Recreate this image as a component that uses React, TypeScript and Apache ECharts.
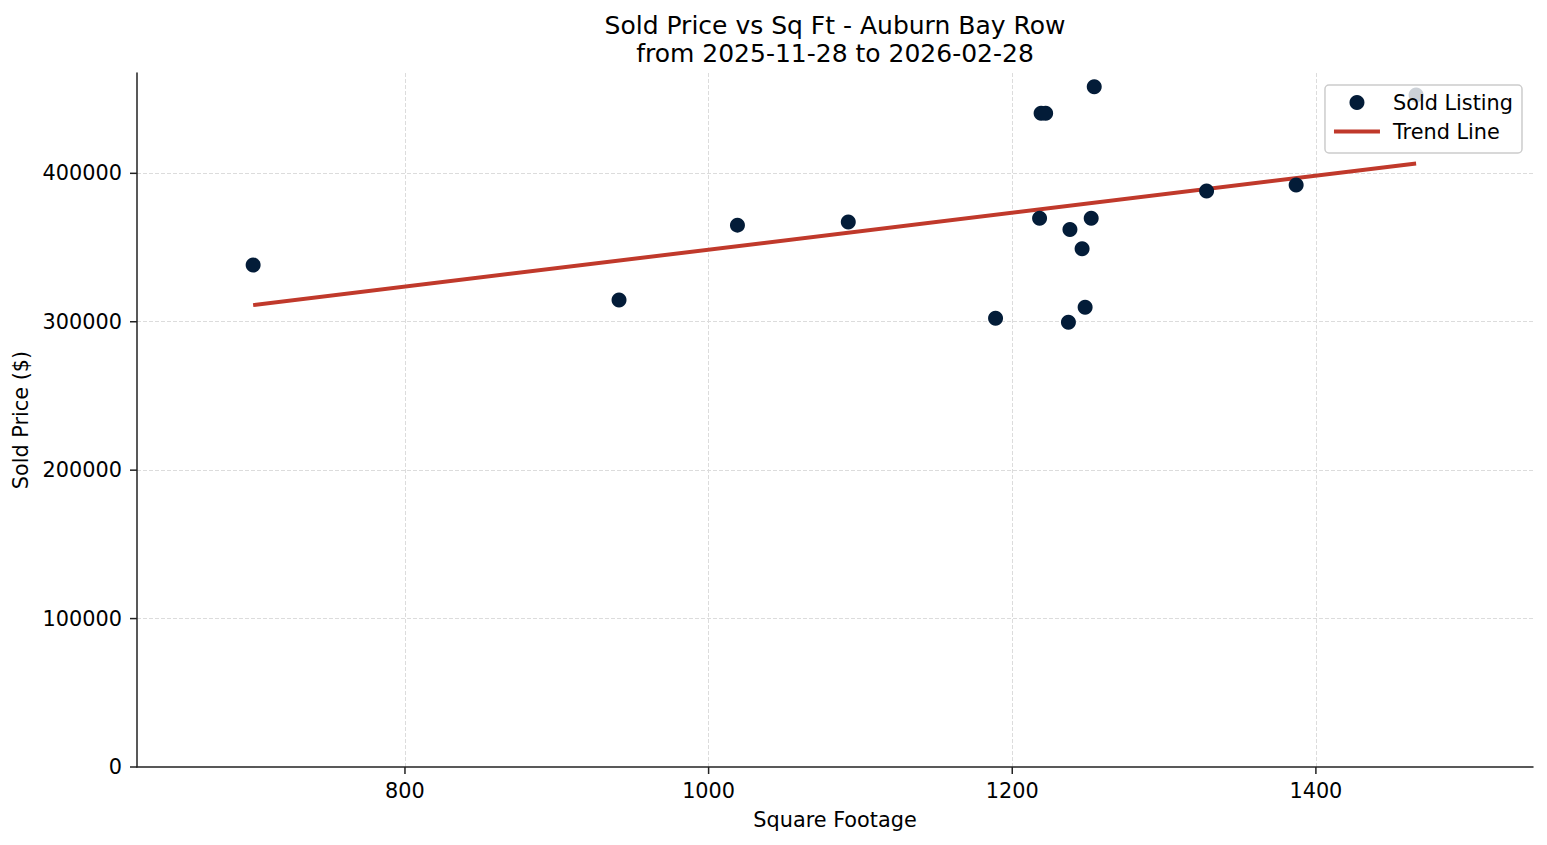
import React, { useEffect, useRef } from 'react';
import * as echarts from 'echarts';

// sold listings: square footage and sold price
const sqFt = [700, 941, 1019, 1092, 1189, 1218, 1219, 1222, 1254, 1238, 1237, 1246, 1248, 1252, 1328, 1387, 1466];
const soldPrice = [338200, 314600, 365100, 367200, 302300, 369700, 440400, 440400, 458400, 362200, 299600, 349200, 309700, 369700, 388100, 392100, 452800];

// trend line end points
const trendX = [700, 1466];
const trendY = [311200, 406600];

// tick values
const xTicks = [800, 1000, 1200, 1400];
const yTicks = [0, 100000, 200000, 300000, 400000];

const X_MIN = 623.5;
const X_MAX = 1543;
const Y_MAX = 467600;

const FONT = 'DejaVu Sans';
const AXIS_COLOR = '#222';

const App: React.FC = () => {
  const chartRef = useRef<HTMLDivElement>(null);

  useEffect(() => {
    document.body.style.margin = '0';
    if (!chartRef.current) return;

    const chart = echarts.init(chartRef.current, null, { renderer: 'svg' });

    const axisLine = { show: true, lineStyle: { color: AXIS_COLOR, width: 1.5 } };
    const splitLine = {
      show: true,
      showMinLine: false,
      showMaxLine: false,
      lineStyle: { color: '#dcdcdc', width: 1, type: [4, 2] }
    };
    const label = {
      fontFamily: FONT,
      fontSize: 20.8,
      color: '#000',
      showMinLabel: false,
      showMaxLabel: false,
      formatter: (v: number) => String(v)
    };

    // tick marks, drawn through the axis scales
    const tickSeries = (dim: 'x' | 'y', values: number[]) => ({
      type: 'custom',
      silent: true,
      clip: false,
      z: 5,
      data: values.map(v => (dim === 'x' ? [v, 0] : [X_MIN, v])),
      renderItem: (_params: any, api: any) => {
        const p = api.coord([api.value(0), api.value(1)]);
        const shape = dim === 'x'
          ? { x1: p[0], y1: p[1], x2: p[0], y2: p[1] + 7 }
          : { x1: p[0] - 7, y1: p[1], x2: p[0], y2: p[1] };
        return { type: 'line', shape, style: { stroke: AXIS_COLOR, lineWidth: 1.5 } };
      }
    });

    const option = {
      animation: false,
      backgroundColor: '#fff',
      textStyle: { fontFamily: FONT },
      title: {
        text: 'Sold Price vs Sq Ft - Auburn Bay Row\nfrom 2025-11-28 to 2026-02-28',
        left: 830,
        top: 6,
        textAlign: 'center',
        textStyle: { fontFamily: FONT, fontSize: 25, fontWeight: 'normal', color: '#000', lineHeight: 28 }
      },
      legend: {
        orient: 'vertical',
        right: 25,
        top: 85,
        align: 'left',
        itemWidth: 46,
        itemHeight: 15,
        itemGap: 8,
        padding: [7, 9, 11, 7],
        backgroundColor: 'rgba(255,255,255,0.8)',
        borderColor: '#cccccc',
        borderWidth: 1.5,
        borderRadius: 4,
        textStyle: { fontFamily: FONT, fontSize: 20.8, color: '#000', padding: [0, 0, 0, 8] },
        data: [
          { name: 'Sold Listing', icon: 'circle' },
          { name: 'Trend Line', itemStyle: { opacity: 0 }, lineStyle: { width: 4, color: '#c0392b' } }
        ]
      },
      grid: { left: 137, right: 14, top: 73, bottom: 78, outerBoundsMode: 'none', containLabel: false },
      xAxis: {
        type: 'value',
        min: X_MIN,
        max: X_MAX,
        name: 'Square Footage',
        nameLocation: 'middle',
        nameGap: 42,
        nameTextStyle: { fontFamily: FONT, fontSize: 20.8, color: '#000' },
        axisLine,
        axisTick: { show: false },
        axisLabel: { ...label, margin: 13 },
        splitLine
      },
      yAxis: {
        type: 'value',
        min: 0,
        max: Y_MAX,
        name: 'Sold Price ($)',
        nameLocation: 'middle',
        nameRotate: 90,
        nameGap: 94,
        nameTextStyle: { fontFamily: FONT, fontSize: 20.8, color: '#000' },
        axisLine,
        axisTick: { show: false },
        axisLabel: { ...label, margin: 15, showMinLabel: true },
        splitLine
      },
      series: [
        {
          name: 'Sold Listing',
          type: 'scatter',
          symbolSize: 15,
          itemStyle: { color: '#031c38', opacity: 1 },
          data: sqFt.map((x, i) => [x, soldPrice[i]]),
          z: 3
        },
        {
          name: 'Trend Line',
          type: 'line',
          symbol: 'none',
          lineStyle: { color: '#c0392b', width: 4 },
          itemStyle: { color: '#c0392b' },
          data: trendX.map((x, i) => [x, trendY[i]]),
          z: 2
        },
        tickSeries('x', xTicks),
        tickSeries('y', yTicks)
      ]
    };

    chart.setOption(option);

    const handleResize = () => chart.resize();
    window.addEventListener('resize', handleResize);
    return () => {
      window.removeEventListener('resize', handleResize);
      chart.dispose();
    };
  }, []);

  return <div ref={chartRef} style={{ width: '1547px', height: '845px' }} />;
};

export default App;
